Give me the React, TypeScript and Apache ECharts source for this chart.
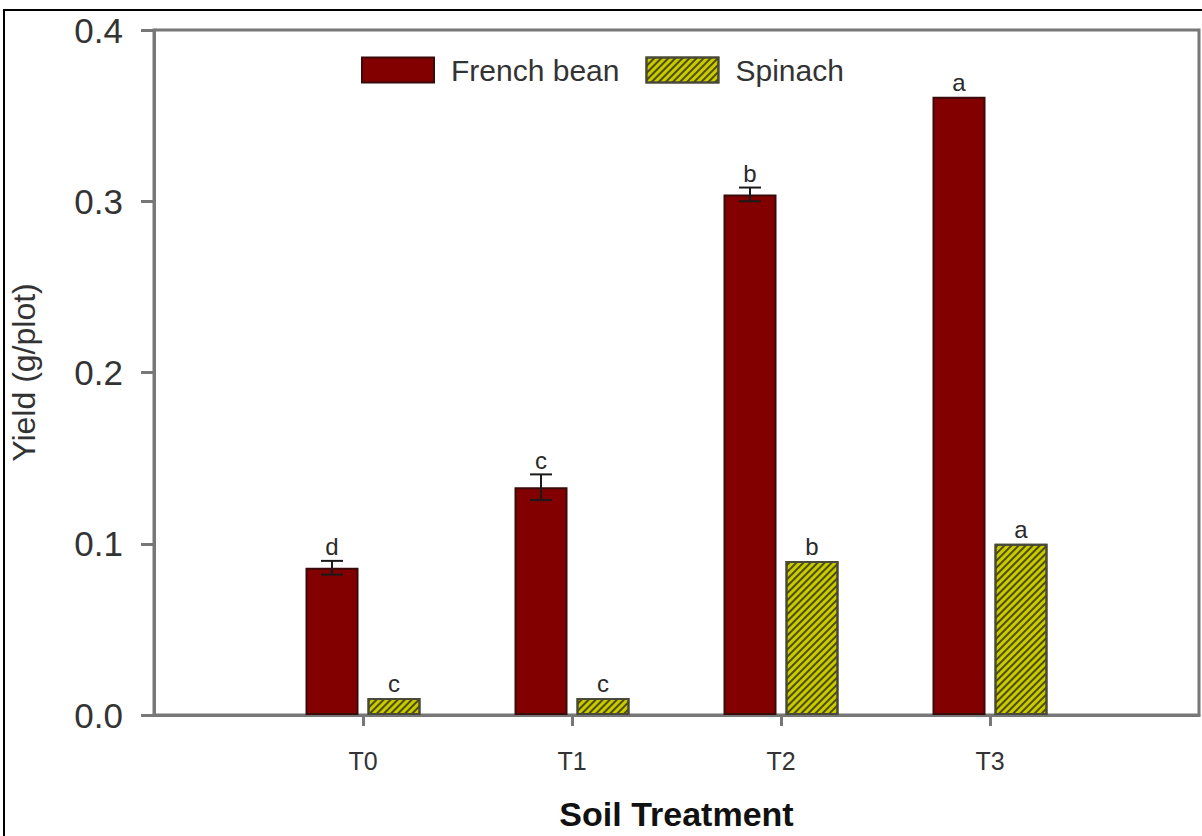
import React, { useEffect, useRef } from "react";
import * as echarts from "echarts";

const categories = ["", "T0", "T1", "T2", "T3", ""];
const frenchBean = [0.086, 0.133, 0.304, 0.361];
const frenchBeanErr = [0.004, 0.0075, 0.004, 0];
const frenchBeanLetters = ["d", "c", "b", "a"];
const spinach = [0.01, 0.01, 0.09, 0.1];
const spinachErr = [0, 0, 0, 0];
const spinachLetters = ["c", "c", "b", "a"];
const yTicks = [0, 0.1, 0.2, 0.3, 0.4];

const BAR_W = 53;
const BAR_GAP = 9;
const FONT = "'Liberation Sans', Arial, sans-serif";

function makeErrSeries(name: string, vals: number[], errs: number[], letters: string[], offset: number) {
  return {
    type: "custom",
    name: name + "-err",
    z: 10,
    silent: true,
    encode: { x: 0, y: 1 },
    data: vals.map((v, i) => [i + 1, v, errs[i]]),
    renderItem: (params: any, api: any) => {
      const idx = api.value(0);
      const v = api.value(1);
      const e = api.value(2);
      const letter = letters[params.dataIndex];
      const cx = api.coord([idx, v])[0] + offset;
      const yTop = api.coord([idx, v + e])[1];
      const yBot = api.coord([idx, v - e])[1];
      const children: any[] = [];
      if (e > 0) {
        const cap = 11;
        const ls = { stroke: "#1a1a1a", lineWidth: 2 };
        children.push({ type: "line", shape: { x1: cx, y1: yTop, x2: cx, y2: yBot }, style: ls });
        children.push({ type: "line", shape: { x1: cx - cap, y1: yTop, x2: cx + cap, y2: yTop }, style: ls });
        children.push({ type: "line", shape: { x1: cx - cap, y1: yBot, x2: cx + cap, y2: yBot }, style: ls });
      }
      children.push({
        type: "text",
        x: cx,
        y: yTop - 2,
        style: {
          text: letter,
          fill: "#2a2a2a",
          font: `24px ${FONT}`,
          align: "center",
          verticalAlign: "bottom",
        },
      });
      return { type: "group", children };
    },
  };
}

export default function App() {
  const ref = useRef<HTMLDivElement>(null);
  useEffect(() => {
    document.body.style.margin = "0";
    document.body.style.overflow = "hidden";
    const chart = echarts.init(ref.current!, null, { renderer: "svg" });
    const off = (BAR_W + BAR_GAP) / 2;
    chart.setOption({
      animation: false,
      backgroundColor: "#ffffff",
      textStyle: { fontFamily: FONT },
      grid: {
        left: 152,
        right: 2,
        top: 30,
        bottom: 114,
        show: true,
        borderColor: "#777",
        borderWidth: 3,
        backgroundColor: "transparent",
      },
      legend: {
        data: ["French bean", "Spinach"],
        left: 361,
        top: 55,
        padding: 0,
        icon: "rect",
        itemWidth: 72,
        itemHeight: 25,
        itemGap: 26,
        textStyle: { fontSize: 30, color: "#333", fontFamily: FONT, padding: [0, 0, 0, 12] },
      },
      xAxis: {
        type: "category",
        data: categories,
        boundaryGap: false,
        axisLine: { show: true, lineStyle: { color: "#777", width: 3 } },
        axisTick: {
          show: true,
          length: 11,
          interval: (i: number) => i > 0 && i < categories.length - 1,
          lineStyle: { color: "#777", width: 3 },
        },
        axisLabel: { fontSize: 25, color: "#333", margin: 33, interval: 0, fontFamily: FONT },
        splitLine: { show: false },
        name: "Soil Treatment",
        nameLocation: "middle",
        nameGap: 82,
        nameTextStyle: { fontSize: 34, fontWeight: "bold", color: "#111", fontFamily: FONT },
      },
      yAxis: {
        type: "value",
        min: yTicks[0],
        max: yTicks[yTicks.length - 1],
        interval: 0.1,
        axisLine: { show: true, lineStyle: { color: "#777", width: 3 } },
        axisTick: { show: true, length: 13, lineStyle: { color: "#777", width: 3 } },
        axisLabel: {
          fontSize: 35,
          color: "#333",
          margin: 31,
          fontFamily: FONT,
          formatter: (v: number) => v.toFixed(1),
        },
        splitLine: { show: false },
        name: "Yield (g/plot)",
        nameLocation: "middle",
        nameGap: 114,
        nameTextStyle: { fontSize: 32, color: "#333", fontFamily: FONT },
      },
      series: [
        {
          type: "bar",
          name: "French bean",
          barWidth: BAR_W,
          barGap: (BAR_GAP / BAR_W) * 100 + "%",
          data: frenchBean.map((v, i) => [i + 1, v]),
          itemStyle: { color: "#820000", borderColor: "#3a0a0a", borderWidth: 2 },
        },
        {
          type: "bar",
          name: "Spinach",
          barWidth: BAR_W,
          barGap: (BAR_GAP / BAR_W) * 100 + "%",
          data: spinach.map((v, i) => [i + 1, v]),
          itemStyle: {
            color: "#caca00",
            borderColor: "#4a4a3a",
            borderWidth: 2,
            decal: {
              symbol: "rect",
              symbolSize: 1,
              color: "rgba(55,55,0,0.85)",
              dashArrayX: [1, 0],
              dashArrayY: [2, 3],
              rotation: -Math.PI / 4,
            },
          },
        },
        makeErrSeries("French bean", frenchBean, frenchBeanErr, frenchBeanLetters, -off),
        makeErrSeries("Spinach", spinach, spinachErr, spinachLetters, off),
      ],
      graphic: [
        {
          type: "rect",
          shape: { x: 4, y: 10, width: 1250, height: 900 },
          style: { fill: "none", stroke: "#000", lineWidth: 2 },
          silent: true,
          z: 100,
        },
      ],
    });
    return () => chart.dispose();
  }, []);
  return (
    <div
      ref={ref}
      style={{ position: "fixed", left: 0, top: 0, width: 1202, height: 836 }}
    />
  );
}
